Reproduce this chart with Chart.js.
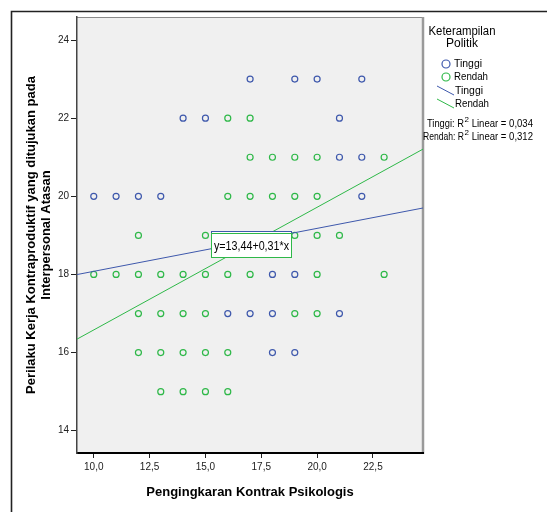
<!DOCTYPE html>
<html>
<head>
<meta charset="utf-8">
<script src="https://cdn.jsdelivr.net/npm/chart.js@4.4.1/dist/chart.umd.min.js"></script>
<style>
  html, body { margin: 0; padding: 0; background: #ffffff; }
  #wrap { width: 547px; height: 512px; position: relative; }
</style>
</head>
<body>
<div id="wrap"><canvas id="c" width="547" height="512"></canvas></div>
<script>
// ---------- data ----------
const groupNames = ['Tinggi', 'Rendah'];
const tinggiX = [17, 19, 20, 22, 14, 15, 21, 21, 22, 10, 11, 12, 13, 22, 18, 19, 16, 17, 18, 21, 18, 19];
const tinggiY = [23, 23, 23, 23, 22, 22, 22, 21, 21, 20, 20, 20, 20, 20, 18, 18, 17, 17, 17, 17, 16, 16];
const rendahX = [16, 17, 17, 18, 19, 20, 23, 16, 17, 18, 19, 20, 12, 15, 17, 18, 19, 20, 21,
                 10, 11, 12, 13, 14, 15, 16, 17, 20, 23, 12, 13, 14, 15, 19, 20,
                 12, 13, 14, 15, 16, 13, 14, 15, 16];
const rendahY = [22, 22, 21, 21, 21, 21, 21, 20, 20, 20, 20, 20, 19, 19, 19, 19, 19, 19, 19,
                 18, 18, 18, 18, 18, 18, 18, 18, 18, 18, 17, 17, 17, 17, 17, 17,
                 16, 16, 16, 16, 16, 15, 15, 15, 15];
// regression lines: intercept, slope
const fitIntercept = [16.98, 13.44];
const fitSlope = [0.110, 0.314];
const r2Labels = ['Tinggi: R', 'Rendah: R'];
const r2Values = ['0,034', '0,312'];
const fitLabel = 'y=13,44+0,31*x';
// axes
const xRange = [9.25, 24.74];
const yRange = [13.43, 24.59];
const xTickValues = [10, 12.5, 15, 17.5, 20, 22.5];
const xTickLabels = ['10,0', '12,5', '15,0', '17,5', '20,0', '22,5'];
const yTickValues = [14, 16, 18, 20, 22, 24];
const yTickLabels = ['14', '16', '18', '20', '22', '24'];
const xTitle = 'Pengingkaran Kontrak Psikologis';
const yTitle = ['Perilaku Kerja Kontraproduktif yang ditujukan pada', 'Interpersonal Atasan'];
const legendTitle = ['Keterampilan', 'Politik'];

// ---------- styling ----------
const BLUE = '#3E58AC';
const GREEN = '#2EB848';
const FONT = "'Liberation Sans', Arial, sans-serif";

const toPts = (xs, ys) => xs.map((x, i) => ({ x: x, y: ys[i] }));
const fitLine = (i) => xRange.map(x => ({ x: x, y: fitIntercept[i] + fitSlope[i] * x }));

const framePlugin = {
  id: 'frame',
  beforeDraw(chart) {
    const ctx = chart.ctx;
    const a = chart.chartArea;
    ctx.save();
    ctx.fillStyle = '#ffffff';
    ctx.fillRect(0, 0, chart.width, chart.height);
    // outer frame
    ctx.strokeStyle = '#222';
    ctx.lineWidth = 1.6;
    ctx.beginPath();
    ctx.moveTo(11.5, chart.height + 2);
    ctx.lineTo(11.5, 11.5);
    ctx.lineTo(chart.width + 2, 11.5);
    ctx.stroke();
    // plot area
    ctx.fillStyle = '#f0f0f0';
    ctx.fillRect(a.left, a.top, a.right - a.left, a.bottom - a.top);
    ctx.strokeStyle = '#8a8a8a';
    ctx.lineWidth = 1;
    ctx.beginPath();
    ctx.moveTo(a.left, a.top + 0.5);
    ctx.lineTo(a.right, a.top + 0.5);
    ctx.stroke();
    ctx.strokeStyle = '#9a9a9a';
    ctx.lineWidth = 2.5;
    ctx.beginPath();
    ctx.moveTo(a.right, a.top);
    ctx.lineTo(a.right, a.bottom + 1);
    ctx.stroke();
    ctx.restore();
  },
  afterDatasetsDraw(chart) {
    const ctx = chart.ctx;
    const xs = chart.scales.x, ys = chart.scales.y;
    const bx = Math.round(xs.getPixelForValue(15.25)) + 0.5;
    const by = Math.round(ys.getPixelForValue(19.1)) + 0.5;
    ctx.save();
    // blue label box (behind)
    ctx.fillStyle = '#ffffff';
    ctx.strokeStyle = BLUE;
    ctx.lineWidth = 1;
    ctx.fillRect(bx, by, 80, 24);
    ctx.strokeRect(bx, by, 80, 24);
    // green label box
    ctx.strokeStyle = GREEN;
    ctx.fillRect(bx, by + 2, 80, 24);
    ctx.strokeRect(bx, by + 2, 80, 24);
    ctx.fillStyle = '#000';
    ctx.font = '12px ' + FONT;
    ctx.textAlign = 'center';
    ctx.textBaseline = 'middle';
    ctx.fillText(fitLabel, bx + 40, by + 15, 75);
    ctx.restore();
  },
  afterDraw(chart) {
    const ctx = chart.ctx;
    ctx.save();
    ctx.fillStyle = '#000';
    ctx.textBaseline = 'middle';
    // legend title
    ctx.font = '12px ' + FONT;
    ctx.textAlign = 'center';
    ctx.fillText(legendTitle[0], 462, 32, 67);
    ctx.fillText(legendTitle[1], 462, 44, 40);
    // point markers
    const colors = [BLUE, GREEN];
    ctx.lineWidth = 1.2;
    ctx.textAlign = 'left';
    ctx.font = '11px ' + FONT;
    for (let i = 0; i < 2; i++) {
      const y = 64 + i * 13;
      ctx.strokeStyle = colors[i];
      ctx.beginPath();
      ctx.arc(446, y, 4, 0, Math.PI * 2);
      ctx.stroke();
      ctx.fillText(groupNames[i], 454, y, i === 0 ? 28 : 34);
    }
    // line markers
    ctx.lineWidth = 1;
    for (let i = 0; i < 2; i++) {
      const y = 91 + i * 13;
      ctx.strokeStyle = colors[i];
      ctx.beginPath();
      ctx.moveTo(437, y - 5);
      ctx.lineTo(454, y + 4);
      ctx.stroke();
      ctx.fillText(groupNames[i], 455, y, i === 0 ? 28 : 34);
    }
    // R^2 lines
    for (let i = 0; i < 2; i++) {
      const y = 124 + i * 13;
      const left = i === 0 ? 427 : 423;
      ctx.font = '10.5px ' + FONT;
      const pre = r2Labels[i];
      const w1 = Math.min(ctx.measureText(pre).width, i === 0 ? 37 : 41);
      ctx.fillText(pre, left, y, w1);
      ctx.font = '8px ' + FONT;
      ctx.fillText('2', left + w1 + 0.5, y - 4);
      ctx.font = '10.5px ' + FONT;
      const rest = ' Linear = ' + r2Values[i];
      ctx.fillText(rest, left + w1 + 5, y, 64);
    }
    ctx.restore();
  }
};

new Chart(document.getElementById('c'), {
  type: 'scatter',
  data: {
    datasets: [
      { label: groupNames[0], data: toPts(tinggiX, tinggiY), borderColor: BLUE, backgroundColor: 'rgba(0,0,0,0)',
        pointRadius: 3, pointBorderWidth: 1.2, pointHoverRadius: 3, order: 3 },
      { label: groupNames[1], data: toPts(rendahX, rendahY), borderColor: GREEN, backgroundColor: 'rgba(0,0,0,0)',
        pointRadius: 3, pointBorderWidth: 1.2, pointHoverRadius: 3, order: 2 },
      { type: 'line', label: groupNames[0] + ' fit', data: fitLine(0), borderColor: BLUE, borderWidth: 1,
        pointRadius: 0, showLine: true, fill: false, order: 1 },
      { type: 'line', label: groupNames[1] + ' fit', data: fitLine(1), borderColor: GREEN, borderWidth: 1,
        pointRadius: 0, showLine: true, fill: false, order: 0 }
    ]
  },
  options: {
    responsive: false,
    animation: false,
    events: [],
    layout: { padding: { left: 12, top: 17, right: 124, bottom: 0 } },
    plugins: { legend: { display: false }, tooltip: { enabled: false } },
    scales: {
      x: {
        type: 'linear',
        min: xRange[0], max: xRange[1],
        afterFit(s) { s.height = 59; },
        afterBuildTicks(s) { s.ticks = xTickValues.map(v => ({ value: v })); },
        ticks: {
          autoSkip: false, maxRotation: 0, padding: 3,
          color: '#222', font: { family: FONT, size: 10 },
          callback: (v, i) => xTickLabels[i]
        },
        grid: { display: true, drawOnChartArea: false, drawTicks: true, tickLength: 5, color: '#222', lineWidth: 1 },
        border: { display: true, color: '#000', width: 2 },
        title: {
          display: true, text: xTitle, color: '#000',
          font: { family: FONT, size: 13, weight: 'bold', lineHeight: '15px' },
          padding: { top: 0, bottom: 12.5 }
        }
      },
      y: {
        type: 'linear',
        min: yRange[0], max: yRange[1],
        afterFit(s) { s.width = 65; },
        afterBuildTicks(s) { s.ticks = yTickValues.map(v => ({ value: v })); },
        ticks: {
          autoSkip: false, padding: 2,
          color: '#222', font: { family: FONT, size: 10 },
          callback: (v, i) => yTickLabels[i]
        },
        grid: { display: true, drawOnChartArea: false, drawTicks: true, tickLength: 6, color: '#222', lineWidth: 1 },
        border: { display: true, color: '#444', width: 1.5 },
        title: {
          display: true, text: yTitle, color: '#000',
          font: { family: FONT, size: 13, weight: 'bold', lineHeight: '15px' },
          padding: { top: 12, bottom: 0 }
        }
      }
    }
  },
  plugins: [framePlugin]
});
</script>
</body>
</html>
